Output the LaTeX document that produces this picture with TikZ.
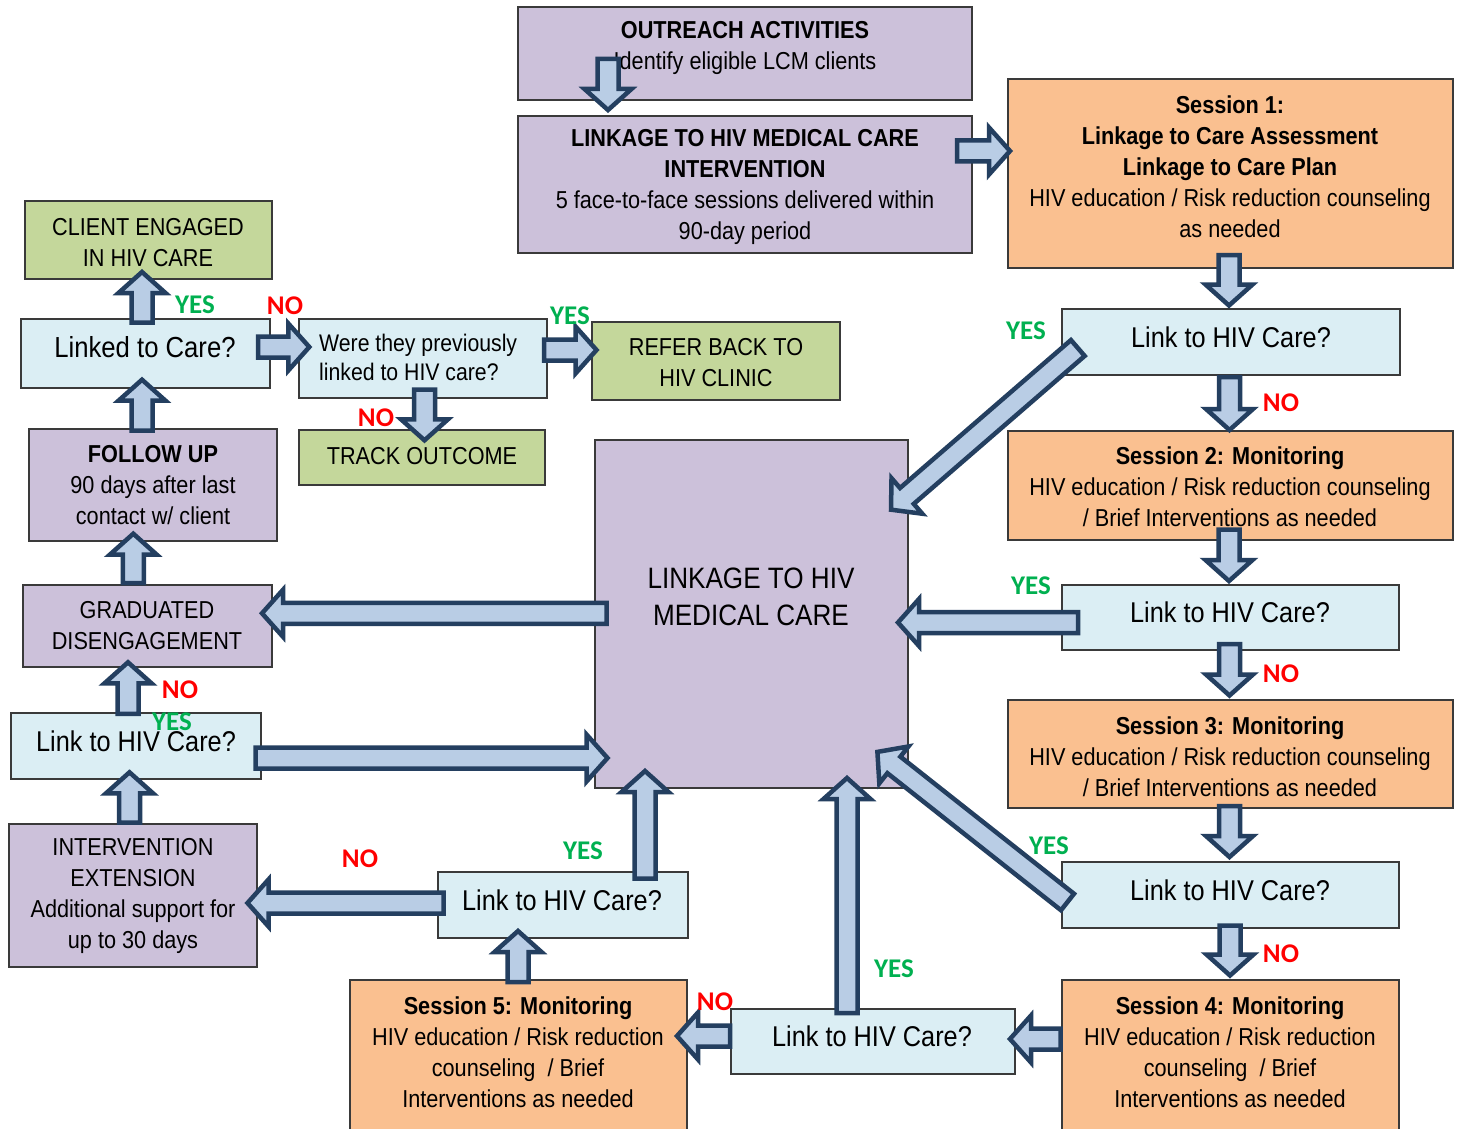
\documentclass[tikz,border=0pt]{standalone}
\usepackage{fontspec}
\setmainfont{Liberation Sans}[FakeStretch=0.885]
\newfontfamily\labfont{Carlito}
\usetikzlibrary{calc}
\definecolor{purp}{HTML}{CCC1DA}
\definecolor{orng}{HTML}{FAC090}
\definecolor{lblue}{HTML}{DBEEF4}
\definecolor{lgreen}{HTML}{C4D79B}
\definecolor{boxline}{HTML}{3A3A3A}
\definecolor{arrfill}{HTML}{B9CDE5}
\definecolor{arrline}{HTML}{243F60}
\definecolor{yesgreen}{HTML}{00B050}
\definecolor{nored}{HTML}{FF0000}
\newcommand\fsz[2]{\fontsize{#1}{#2}\selectfont}
\tikzset{
  box/.style={draw=boxline, line width=1.3pt, inner sep=0pt, outer sep=0pt},
  txt/.style={align=center, inner sep=0pt, text=black, font=\fsz{24.5}{31}},
  linktxt/.style={align=center, inner sep=0pt, text=black, font=\fsz{28.6}{34}},
  blockarr/.style={draw=arrline, fill=arrfill, line width=4.5pt, line join=miter, miter limit=10},
  yeslab/.style={inner sep=0pt, text=yesgreen, font=\labfont\bfseries\fsz{27}{27}},
  nolab/.style={inner sep=0pt, text=nored, font=\labfont\bfseries\fsz{27}{27}},
}
\newcommand\blk[2]{%
  \path (#1) coordinate (bkA) (#2) coordinate (bkB);
  \pgfpointdiff{\pgfpointanchor{bkA}{center}}{\pgfpointanchor{bkB}{center}}%
  \pgfgetlastxy{\bkdx}{\bkdy}%
  \pgfmathsetmacro\bkang{atan2(\bkdy,\bkdx)}%
  \pgfmathsetmacro\bklen{veclen(\bkdx,\bkdy)}%
  \draw[blockarr, shift={(bkA)}, rotate=\bkang]
    (0,-10.5) -- ({\bklen-21},-10.5) -- ({\bklen-21},-23.5) -- (\bklen,0)
    -- ({\bklen-21},23.5) -- ({\bklen-21},10.5) -- (0,10.5) -- cycle;
}
\begin{document}
\begin{tikzpicture}[x=1pt,y=1pt]
\useasboundingbox (0,0) rectangle (1460,-1129);
\fill[white] (0,0) rectangle (1460,-1129);

% ---- boxes ----
\node[box, fill=purp, minimum width=454, minimum height=93] (out) at (745,-53.5) {};
\node[box, fill=purp, minimum width=454, minimum height=137] (lint) at (745,-184.5) {};
\node[box, fill=orng, minimum width=445, minimum height=189] (s1) at (1230.5,-173.5) {};
\node[box, fill=lblue, minimum width=338, minimum height=66] (l1) at (1231,-342) {};
\node[box, fill=orng, minimum width=445, minimum height=109] (s2) at (1230.5,-485.5) {};
\node[box, fill=lblue, minimum width=337, minimum height=65] (l2) at (1230.5,-617.5) {};
\node[box, fill=orng, minimum width=445, minimum height=108] (s3) at (1230.5,-754) {};
\node[box, fill=lblue, minimum width=337, minimum height=66] (l3) at (1230.5,-895) {};
\node[box, fill=orng, minimum width=337, minimum height=160] (s4) at (1230.5,-1060) {};
\node[box, fill=lblue, minimum width=284, minimum height=65] (l4) at (873,-1041.5) {};
\node[box, fill=orng, minimum width=337, minimum height=160] (s5) at (518.5,-1060) {};
\node[box, fill=lblue, minimum width=250, minimum height=66] (l5) at (563,-905) {};
\node[box, fill=purp, minimum width=248, minimum height=143] (ext) at (133,-895.5) {};
\node[box, fill=lblue, minimum width=250, minimum height=66] (l6) at (136,-746) {};
\node[box, fill=purp, minimum width=249, minimum height=82] (grad) at (147.5,-626) {};
\node[box, fill=purp, minimum width=248, minimum height=112] (fol) at (153,-485) {};
\node[box, fill=lblue, minimum width=249, minimum height=69] (ltc) at (145.5,-353.5) {};
\node[box, fill=lgreen, minimum width=247, minimum height=78] (eng) at (148.5,-240) {};
\node[box, fill=lblue, minimum width=248, minimum height=79] (prev) at (423,-358.5) {};
\node[box, fill=lgreen, minimum width=248, minimum height=78] (ref) at (716,-361) {};
\node[box, fill=lgreen, minimum width=246, minimum height=55] (trk) at (422,-457.5) {};
\node[box, fill=purp, minimum width=313, minimum height=348] (cen) at (751.5,-614) {};

% ---- texts ----
\node[txt] (outt) at (745,-47.5) {\textbf{OUTREACH ACTIVITIES}\\Identify eligible LCM clients};
\node[txt] (lintt) at (745,-187) {\textbf{LINKAGE TO HIV MEDICAL CARE}\\\textbf{INTERVENTION}\\5 face-to-face sessions delivered within\\90-day period};
\node[txt] (s1t) at (1230,-166.5) {\textbf{Session 1:}\\\textbf{Linkage to Care Assessment}\\\textbf{Linkage to Care Plan}\\HIV education / Risk reduction counseling\\as needed};
\node[linktxt] (l1t) at (1231,-337) {Link to HIV Care?};
\node[txt] (s2t) at (1230,-487) {\textbf{Session 2: Monitoring}\\HIV education / Risk reduction counseling\\/ Brief Interventions as needed};
\node[linktxt] (l2t) at (1230,-612) {Link to HIV Care?};
\node[txt] (s3t) at (1230,-756.5) {\textbf{Session 3: Monitoring}\\HIV education / Risk reduction counseling\\/ Brief Interventions as needed};
\node[linktxt] (l3t) at (1230,-890) {Link to HIV Care?};
\node[txt] (s4t) at (1230,-1052.5) {\textbf{Session 4: Monitoring}\\HIV education / Risk reduction\\counseling\ \ / Brief\\Interventions as needed};
\node[linktxt] (l4t) at (872,-1036) {Link to HIV Care?};
\node[txt] (s5t) at (518,-1052.5) {\textbf{Session 5: Monitoring}\\HIV education / Risk reduction\\counseling\ \ / Brief\\Interventions as needed};
\node[linktxt] (l5t) at (562,-900) {Link to HIV Care?};
\node[txt] (extt) at (133,-895.5) {INTERVENTION\\EXTENSION\\Additional support for\\up to 30 days};
\node[linktxt] (l6t) at (136,-741) {Link to HIV Care?};
\node[txt] (gradt) at (147,-625.5) {GRADUATED\\DISENGAGEMENT};
\node[txt] (folt) at (153,-485) {\textbf{FOLLOW UP}\\90 days after last\\contact w/ client};
\node[linktxt, font=\fsz{29}{34}] (ltct) at (145,-347) {Linked to Care?};
\node[txt] (engt) at (148,-242.5) {CLIENT ENGAGED\\IN HIV CARE};
\node[txt, align=left, anchor=west, font=\fsz{24}{29}] (prevt) at (319,-357.5) {Were they previously\\linked to HIV care?};
\node[txt] (reft) at (716,-362.5) {REFER BACK TO\\HIV CLINIC};
\node[txt] (trkt) at (422,-456) {TRACK OUTCOME};
\node[txt, font=\fsz{29.5}{37}] (cent) at (751,-596.5) {LINKAGE TO HIV\\MEDICAL CARE};

% ---- block arrows ----
\blk{[shift={(-137,41)}]out.south}{[shift={(-137,6)}]lint.north}
\blk{[shift={(-15,33.5)}]lint.east}{[shift={(2,22.5)}]s1.west}
\blk{[shift={(-1.5,13)}]s1.south}{[shift={(-2,3.5)}]l1.north}
\blk{[shift={(-1.5,-2)}]l1.south}{[shift={(-1,1)}]s2.north}
\blk{[shift={(15.8,-6)}]l1.west}{[shift={(-17,-69.7)}]cen.north east}
\blk{[shift={(-1.5,10.5)}]s2.south}{[shift={(-1.5,4)}]l2.north}
\blk{[shift={(16,-5)}]l2.west}{[shift={(-10,-8.5)}]cen.east}
\blk{[shift={(-1,6)}]l2.south}{[shift={(-1,4.5)}]s3.north}
\blk{[shift={(-1,2)}]s3.south}{[shift={(-1,5)}]l3.north}
\blk{[shift={(5.5,-7)}]l3.west}{[shift={(-30.6,36.1)}]cen.south east}
\blk{[shift={(-0.5,2.5)}]l3.south}{[shift={(-0.5,4.5)}]s4.north}
\blk{[shift={(-1.5,-59)}]s4.north west}{[shift={(-5,2.5)}]l4.east}
\blk{[shift={(-26,-4)}]l4.north}{[shift={(95.5,10)}]cen.south}
\blk{[shift={(-1,5.5)}]l4.west}{[shift={(-10,-56)}]s5.north east}
\blk{[shift={(-0.5,-2)}]s5.north}{[shift={(-45,7)}]l5.south}
\blk{[shift={(82,-6.5)}]l5.north}{[shift={(-106.5,17)}]cen.south}
\blk{[shift={(5.5,2)}]l5.west}{[shift={(-9.5,-7.5)}]ext.east}
\blk{[shift={(-3.5,1.3)}]ext.north}{[shift={(-6.5,6.7)}]l6.south}
\blk{[shift={(-5.5,-12)}]l6.east}{[shift={(12.5,-144)}]cen.west}
\blk{[shift={(-8,-0.8)}]l6.north}{[shift={(-19.5,4.7)}]grad.south}
\blk{[shift={(11.5,0.7)}]cen.west}{[shift={(-10,12.7)}]grad.east}
\blk{[shift={(-14.2,2)}]grad.north}{[shift={(-19.7,7.3)}]fol.south}
\blk{[shift={(-11,-1.5)}]fol.north}{[shift={(-3.5,8.3)}]ltc.south}
\blk{[shift={(-3.5,-3.7)}]ltc.north}{[shift={(-6.5,7)}]eng.south}
\blk{[shift={(-12,6.5)}]ltc.east}{[shift={(10.3,11.5)}]prev.west}
\blk{[shift={(-3,8.5)}]prev.east}{[shift={(4.5,11)}]ref.west}
\blk{[shift={(1.5,8.5)}]prev.south}{[shift={(2.5,-10.3)}]trk.north}

% ---- YES / NO labels ----
\node[yeslab] (y1) at (195,-305) {YES};
\node[nolab] (n1) at (285,-306) {NO};
\node[yeslab] (y2) at (570,-316) {YES};
\node[nolab] (n2) at (376,-418) {NO};
\node[yeslab] (y3) at (1026,-331) {YES};
\node[nolab] (n3) at (1281,-403) {NO};
\node[yeslab] (y4) at (1031,-586) {YES};
\node[nolab] (n4) at (1281,-674) {NO};
\node[yeslab] (y5) at (1049,-846) {YES};
\node[nolab] (n5) at (1281,-954) {NO};
\node[yeslab] (y6) at (894,-969) {YES};
\node[nolab] (n6) at (715,-1002) {NO};
\node[yeslab] (y7) at (583,-851) {YES};
\node[nolab] (n7) at (360,-859) {NO};
\node[nolab] (n8) at (180,-690) {NO};
\node[yeslab] (y8) at (172,-722) {YES};
\end{tikzpicture}
\end{document}
